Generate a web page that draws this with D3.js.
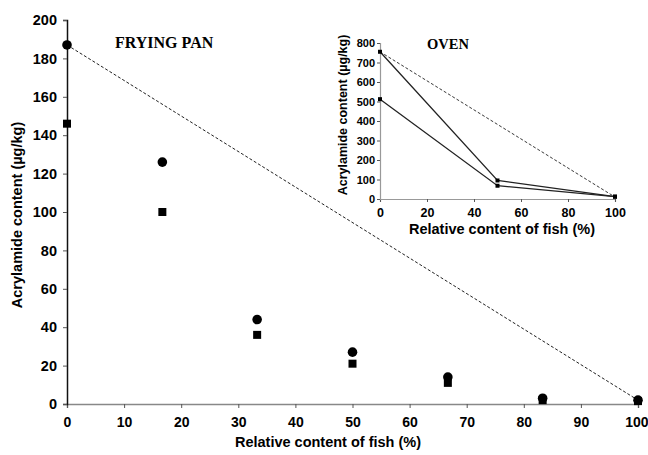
<!DOCTYPE html>
<html>
<head>
<meta charset="utf-8">
<script src="https://cdn.jsdelivr.net/npm/d3@7"></script>
<style>
body { margin: 0; background: #fff; }
svg { display: block; }
.tick text { font-family: "Liberation Sans", Arial, sans-serif; font-weight: bold; }
</style>
</head>
<body>
<svg width="648" height="455"></svg>
<script>
// frying pan data
const fishPct = [0, 16.7, 33.3, 50, 66.7, 83.3, 100];
const circleVals = [187, 126, 44, 27, 14, 3, 2];
const squareVals = [146, 100, 36, 21, 11, 2, 1.5];
const panLine = [[0, 187], [100, 2]];

// oven data
const ovenPct = [0, 50, 100];
const ovenUpper = [755, 95, 12];
const ovenLower = [512, 68, 12];
const ovenLine = [[0, 755], [100, 10]];

const xTicks = [0, 10, 20, 30, 40, 50, 60, 70, 80, 90, 100];
const yTicks = [0, 20, 40, 60, 80, 100, 120, 140, 160, 180, 200];
const ovenXTicks = [0, 20, 40, 60, 80, 100];
const ovenYTicks = [0, 100, 200, 300, 400, 500, 600, 700, 800];

const svg = d3.select("svg");
const font = "'Liberation Sans', Arial, sans-serif";
const serif = "'Liberation Serif', 'Times New Roman', serif";

const x = d3.scaleLinear().domain([0, 100]).range([67, 638]);
const y = d3.scaleLinear().domain([0, 200]).range([404, 20]);

// axes
const xAxis = svg.append("g")
    .attr("transform", "translate(0,404)")
    .call(d3.axisBottom(x).tickValues(xTicks).tickSize(4).tickPadding(9));
xAxis.select(".domain").attr("stroke", "#888").attr("stroke-width", 1.5);
xAxis.selectAll(".tick line").attr("stroke", "#555");
xAxis.selectAll("text").attr("font-size", 14);
xAxis.selectAll("text").filter(d => d === 100).attr("text-anchor", "end").attr("dx", 10);

const yAxis = svg.append("g")
    .attr("transform", "translate(67,0)")
    .call(d3.axisLeft(y).tickValues(yTicks).tickSize(4).tickPadding(6));
yAxis.select(".domain").attr("stroke", "#111").attr("stroke-width", 1.5);
yAxis.selectAll(".tick line").attr("stroke", "#555");
yAxis.selectAll("text").attr("font-size", 14.5);

svg.append("text")
    .attr("x", 328).attr("y", 447)
    .attr("text-anchor", "middle")
    .attr("font-family", font).attr("font-weight", "bold").attr("font-size", 14.5)
    .text("Relative content of fish (%)");

svg.append("text")
    .attr("transform", "translate(22,215) rotate(-90)")
    .attr("text-anchor", "middle")
    .attr("font-family", font).attr("font-weight", "bold").attr("font-size", 14.5)
    .text("Acrylamide content (µg/kg)");

svg.append("text")
    .attr("x", 115).attr("y", 48)
    .attr("font-family", serif)
    .attr("font-weight", "bold").attr("font-size", 16)
    .text("FRYING PAN");

const line = d3.line().x(d => x(d[0])).y(d => y(d[1]));

svg.append("path")
    .datum(panLine)
    .attr("d", line)
    .attr("fill", "none")
    .attr("stroke", "#222")
    .attr("stroke-width", 1)
    .attr("stroke-dasharray", "3,2");

svg.selectAll(".sq")
    .data(fishPct)
    .enter().append("rect")
    .attr("class", "sq")
    .attr("x", (d, i) => x(d) - 4)
    .attr("y", (d, i) => y(squareVals[i]) - 4)
    .attr("width", 8).attr("height", 8)
    .attr("fill", "#000");

svg.selectAll(".dot")
    .data(fishPct)
    .enter().append("circle")
    .attr("class", "dot")
    .attr("cx", d => x(d))
    .attr("cy", (d, i) => y(circleVals[i]))
    .attr("r", 4.8)
    .attr("fill", "#000");

// inset: oven
const ox = d3.scaleLinear().domain([0, 100]).range([380, 615]);
const oy = d3.scaleLinear().domain([0, 800]).range([199, 43]);

const oxAxis = svg.append("g")
    .attr("transform", "translate(0,199)")
    .call(d3.axisBottom(ox).tickValues(ovenXTicks).tickSize(3).tickPadding(6));
oxAxis.select(".domain").attr("stroke", "#999").attr("stroke-width", 1.2);
oxAxis.selectAll(".tick line").attr("stroke", "#555");
oxAxis.selectAll("text").attr("font-size", 12.5);

const oyAxis = svg.append("g")
    .attr("transform", "translate(380,0)")
    .call(d3.axisLeft(oy).tickValues(ovenYTicks).tickSize(3).tickPadding(2));
oyAxis.select(".domain").attr("stroke", "#999").attr("stroke-width", 1.2);
oyAxis.selectAll(".tick line").attr("stroke", "#555");
oyAxis.selectAll("text").attr("font-size", 11);

svg.append("text")
    .attr("x", 502).attr("y", 234)
    .attr("text-anchor", "middle")
    .attr("font-family", font).attr("font-weight", "bold").attr("font-size", 14.5)
    .text("Relative content of fish (%)");

svg.append("text")
    .attr("transform", "translate(347,115) rotate(-90)")
    .attr("text-anchor", "middle")
    .attr("font-family", font).attr("font-weight", "bold").attr("font-size", 12.5)
    .text("Acrylamide content (µg/kg)");

svg.append("text")
    .attr("x", 427).attr("y", 49)
    .attr("font-family", serif)
    .attr("font-weight", "bold").attr("font-size", 14.5)
    .text("OVEN");

const oline = d3.line().x(d => ox(d[0])).y(d => oy(d[1]));

svg.append("path")
    .datum(ovenLine)
    .attr("d", oline)
    .attr("fill", "none")
    .attr("stroke", "#222")
    .attr("stroke-width", 0.9)
    .attr("stroke-dasharray", "3,2");

[ovenUpper, ovenLower].forEach(vals => {
    const pts = ovenPct.map((p, i) => [p, vals[i]]);
    svg.append("path")
        .datum(pts)
        .attr("d", oline)
        .attr("fill", "none")
        .attr("stroke", "#222")
        .attr("stroke-width", 1.3);
    svg.selectAll(null)
        .data(pts)
        .enter().append("rect")
        .attr("x", d => ox(d[0]) - 2)
        .attr("y", d => oy(d[1]) - 2)
        .attr("width", 4).attr("height", 4)
        .attr("fill", "#000");
});
</script>
</body>
</html>
